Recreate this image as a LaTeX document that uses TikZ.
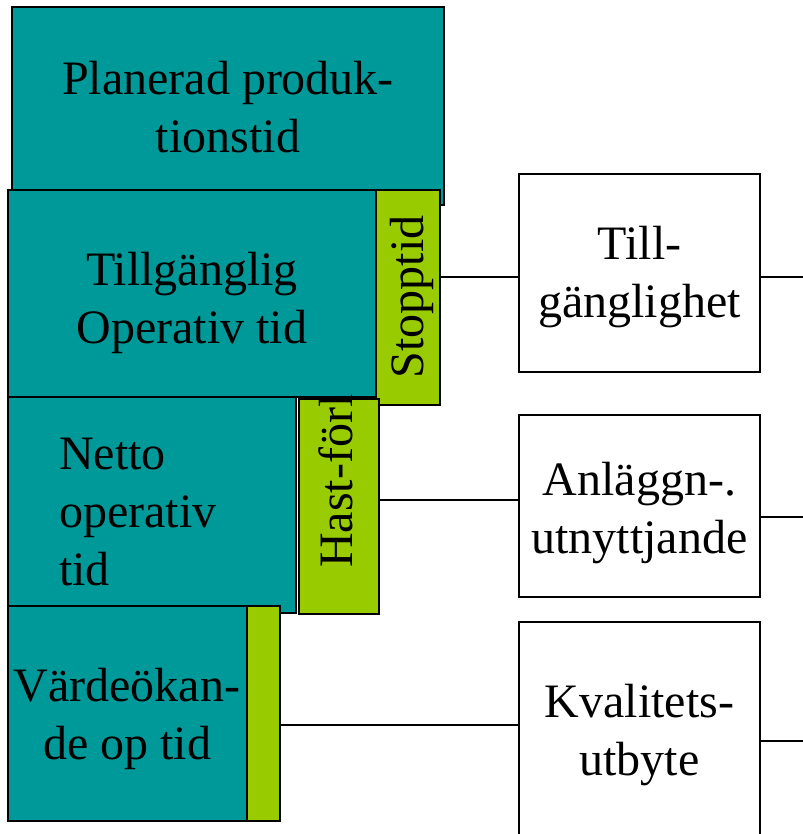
\documentclass[tikz,border=0pt]{standalone}
\usepackage{fontspec}
\setmainfont{Liberation Serif}
\definecolor{tealfill}{RGB}{0,153,153}
\definecolor{limefill}{RGB}{153,204,0}
\begin{document}
\begin{tikzpicture}[x=1bp,y=-1bp,
  box/.style={draw=black, line width=2bp, anchor=north west, inner sep=0pt, outer sep=0pt},
  tealbox/.style={box, fill=tealfill},
  limebox/.style={box, fill=limefill},
  whitebox/.style={box, fill=white},
  txt/.style={font=\fontsize{48bp}{58bp}\selectfont, inner sep=0pt, align=center, anchor=base},
  conn/.style={line width=2bp}]
\useasboundingbox (0,0) rectangle (803,834);
\clip (0,0) rectangle (803,834);
% left stack
\node[tealbox, minimum width=432bp, minimum height=198bp] (plan) at (12,7) {};
\node[tealbox, minimum width=368bp, minimum height=207bp] (tillg) at (8,190) {};
\node[limebox, minimum width=64bp, minimum height=215bp] (stop) at (376,190) {};
\node[tealbox, minimum width=288bp, minimum height=216bp] (netto) at (8,397) {};
\node[limebox, minimum width=80bp, minimum height=215bp] (hast) at (299,399) {};
\node[tealbox, minimum width=239bp, minimum height=215bp] (varde) at (8,606) {};
\node[limebox, minimum width=33bp, minimum height=215bp] (vgreen) at (247,606) {};
% right boxes
\node[whitebox, minimum width=241bp, minimum height=198bp] (b1) at (519,174) {};
\node[whitebox, minimum width=241bp, minimum height=182bp] (b2) at (519,415) {};
\node[whitebox, minimum width=241bp, minimum height=226bp] (b3) at (519,622) {};
% texts (anchor = baseline of last line)
\node[txt] (plantxt) at (228,152) {Planerad produk-\\tionstid};
\node[txt] (tillgtxt) at (192,343) {Tillgänglig\\Operativ tid};
\node[txt, align=left, anchor=base west] (nettotxt) at (59,585) {Netto\\operativ\\tid};
\node[txt] (vardetxt) at (127,759) {Värdeökan-\\de op tid};
\node[txt, rotate=90] (stoptxt) at (423,297) {Stopptid};
\node[txt, rotate=90, anchor=base west] (hasttxt) at (352,568) {Hast-förl};
\node[txt] (b1txt) at (639.5,317) {Till-\\gänglighet};
\node[txt] (b2txt) at (639.5,553) {Anläggn-.\\utnyttjande};
\node[txt] (b3txt) at (639.5,775) {Kvalitets-\\utbyte};
% connectors
\draw[conn] (stop.east |- 0,277) -- (b1.west |- 0,277);
\draw[conn] (hast.east |- 0,500) -- (b2.west |- 0,500);
\draw[conn] (vgreen.east |- 0,725) -- (b3.west |- 0,725);
\coordinate (r1) at (803,277);
\coordinate (r2) at (803,517);
\coordinate (r3) at (803,741);
\draw[conn] (b1.east |- r1) -- (r1);
\draw[conn] (b2.east |- r2) -- (r2);
\draw[conn] (b3.east |- r3) -- (r3);
\end{tikzpicture}
\end{document}
